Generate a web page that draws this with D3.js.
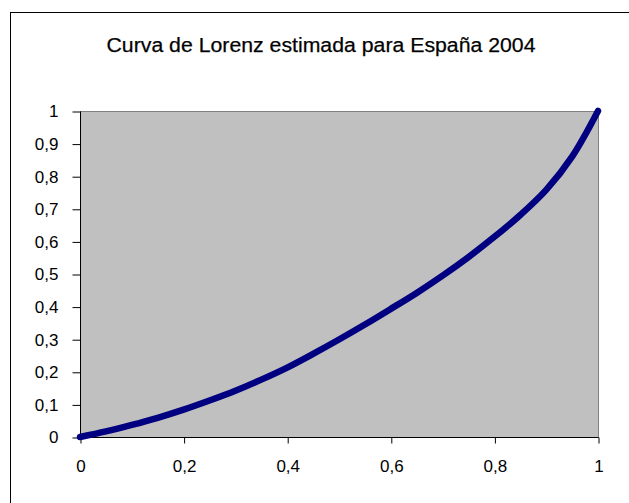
<!DOCTYPE html>
<html>
<head>
<meta charset="utf-8">
<script src="https://cdn.jsdelivr.net/npm/d3@7/dist/d3.min.js"></script>
<style>
  html, body { margin: 0; padding: 0; background: #fff; }
  svg { display: block; }
  text { font-family: "Liberation Sans", Arial, sans-serif; fill: #000; }
</style>
</head>
<body>
<svg id="chart" width="629" height="503"></svg>
<script>
// Cumulative population share (x) and cumulative income share (y)
const populationShare = [0, 0.05, 0.1, 0.15, 0.2, 0.25, 0.3, 0.35, 0.4, 0.45, 0.5,
                         0.55, 0.6, 0.65, 0.7, 0.75, 0.8, 0.85, 0.9, 0.95, 1];
const incomeShare = [0, 0.017, 0.037, 0.059, 0.084, 0.112, 0.142, 0.176, 0.213, 0.255, 0.299,
                     0.345, 0.393, 0.442, 0.495, 0.552, 0.614, 0.681, 0.758, 0.860, 1];

const xTicks = [0, 0.2, 0.4, 0.6, 0.8, 1];
const yTicks = [0, 0.1, 0.2, 0.3, 0.4, 0.5, 0.6, 0.7, 0.8, 0.9, 1];
const title = "Curva de Lorenz estimada para España 2004";

const svg = d3.select("#chart");
const fmt = v => String(v).replace(".", ",");

// Outer chart frame
svg.append("rect")
  .attr("x", 10.5).attr("y", 12.5)
  .attr("width", 640).attr("height", 520)
  .attr("fill", "#fff").attr("stroke", "#000").attr("stroke-width", 1);

const plot = { left: 80, right: 598, top: 111, bottom: 437 };

const x = d3.scaleLinear().domain([0, 1]).range([plot.left, plot.right]);
const y = d3.scaleLinear().domain([0, 1]).range([plot.bottom, plot.top]);

// Plot area
svg.append("rect")
  .attr("x", plot.left + 0.5).attr("y", plot.top + 0.5)
  .attr("width", plot.right - plot.left).attr("height", plot.bottom - plot.top)
  .attr("fill", "#c0c0c0").attr("stroke", "#808080").attr("stroke-width", 1);

// Title
svg.append("text")
  .attr("x", 321).attr("y", 52)
  .attr("text-anchor", "middle")
  .attr("font-size", 20)
  .attr("textLength", 429)
  .attr("lengthAdjust", "spacingAndGlyphs")
  .attr("fill", "#111")
  .attr("stroke", "#111")
  .attr("stroke-width", 0.25)
  .text(title);

// Axes
const xAxis = d3.axisBottom(x).tickValues(xTicks).tickFormat(fmt).tickSize(6).tickPadding(16);
const yAxis = d3.axisLeft(y).tickValues(yTicks).tickFormat(fmt).tickSize(8).tickPadding(14);

const gx = svg.append("g").attr("transform", `translate(0.5,${plot.bottom + 0.5})`).call(xAxis);
const gy = svg.append("g").attr("transform", `translate(${plot.left + 0.5},0.5)`).call(yAxis);

[gx, gy].forEach(g => {
  g.select(".domain").attr("stroke", "#000");
  g.selectAll(".tick line").attr("stroke", "#000");
  g.selectAll(".tick text")
    .attr("font-family", "'Liberation Sans', Arial, sans-serif")
    .attr("font-size", 17)
    .attr("fill", "#000");
});
gx.select(".domain").attr("d", `M${plot.left},0H${plot.right}`);
gy.select(".domain").attr("d", `M0,${plot.bottom}V${plot.top}`);

// Lorenz curve
const points = populationShare.map((p, i) => [p, incomeShare[i]]);
const line = d3.line()
  .x(d => x(d[0]))
  .y(d => y(d[1]))
  .curve(d3.curveCatmullRom.alpha(0.5));

svg.append("path")
  .datum(points)
  .attr("d", line)
  .attr("fill", "none")
  .attr("stroke", "#000080")
  .attr("stroke-width", 6.5)
  .attr("stroke-linecap", "round")
  .attr("stroke-linejoin", "round");
</script>
</body>
</html>
